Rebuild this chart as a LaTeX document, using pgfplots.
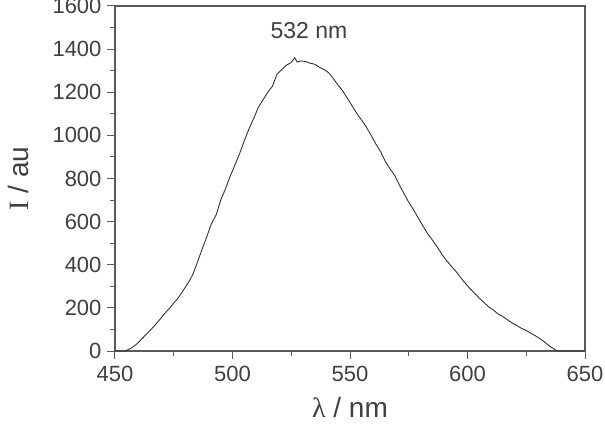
\documentclass[border=0pt]{standalone}
\usepackage{fontspec}
\setmainfont{Liberation Sans}
\newfontfamily\seriffont{Liberation Serif}
\usepackage{pgfplots}
\pgfplotsset{compat=1.18}
\definecolor{axgray}{HTML}{5A5A5A}
\definecolor{txtgray}{HTML}{404040}
\definecolor{curve}{HTML}{333333}
\begin{document}
\begin{tikzpicture}
\begin{axis}[
  scale only axis,
  width=470pt, height=345pt,
  xmin=450, xmax=650, ymin=0, ymax=1600,
  xtick={450,500,...,650}, ytick={0,200,...,1600},
  minor x tick num=1, minor y tick num=1,
  tick pos=left, tick align=outside,
  major tick length=8pt, minor tick length=5pt,
  axis line style={axgray, line width=1.1pt},
  every tick/.style={axgray, line width=1pt},
  /pgf/number format/assume math mode=true,
  /pgf/number format/1000 sep={},
  xticklabel={\fontsize{22}{26}\selectfont\pgfmathprintnumber{\tick}},
  yticklabel={\fontsize{22}{26}\selectfont\pgfmathprintnumber{\tick}},
  tick label style={text=txtgray},
  xticklabel style={yshift=-4pt},
  yticklabel style={xshift=-2pt},
  xlabel={{\seriffont λ} / nm},
  ylabel={{\seriffont I} / au},
  label style={font=\fontsize{28}{32}\selectfont, text=txtgray},
  xlabel style={at={(axis description cs:0.5,-0.165)}, anchor=center},
  ylabel style={at={(axis description cs:-0.206,0.5)}, anchor=center},
]
\addplot[curve, line width=0.9pt] coordinates {
(450,0) (452,0) (454,0) (455,3) (457,14) (459,30) (461,52) (463,74) (465,96)
(467,120) (469,145) (471,172) (473,196) (475,222) (477,248) (479,280) (481,314)
(483,352) (485,410) (487,470) (489,528) (491,590) (493,630) (495,700) (497,752)
(499,810) (501,862) (503,915) (505,975) (507,1030) (509,1078) (511,1130) (513,1165)
(515,1200) (517,1228) (519,1285) (521,1305) (523,1326) (525,1338) (526.5,1360)
(527.5,1340) (529,1345) (531,1343) (533,1335) (535,1330) (537,1316) (539,1305)
(541,1290) (543,1262) (545,1232) (547,1205) (549,1170) (551,1135) (553,1100)
(555,1070) (557,1038) (559,1000) (561,960) (563,925) (565,880) (567,845) (569,815)
(571,770) (573,730) (575,690) (577,655) (579,618) (581,580) (583,545) (585,515)
(587,485) (589,450) (591,420) (593,395) (595,370) (597,342) (599,315) (601,290)
(603,268) (605,245) (607,225) (609,205) (611,190) (613,172) (615,160) (617,145)
(619,130) (621,118) (623,105) (625,95) (627,82) (629,70) (631,56) (633,40)
(635,22) (637,8) (638,0) (650,0)
};
\node[font=\fontsize{23}{26}\selectfont, text=txtgray] at (axis cs:532.5,1487) {532 nm};
\end{axis}
\pgfresetboundingbox
\path[use as bounding box] (current axis.south west) ++(-115pt,-73pt) rectangle ([shift={(20pt,6pt)}]current axis.north east);
\end{tikzpicture}
\end{document}
